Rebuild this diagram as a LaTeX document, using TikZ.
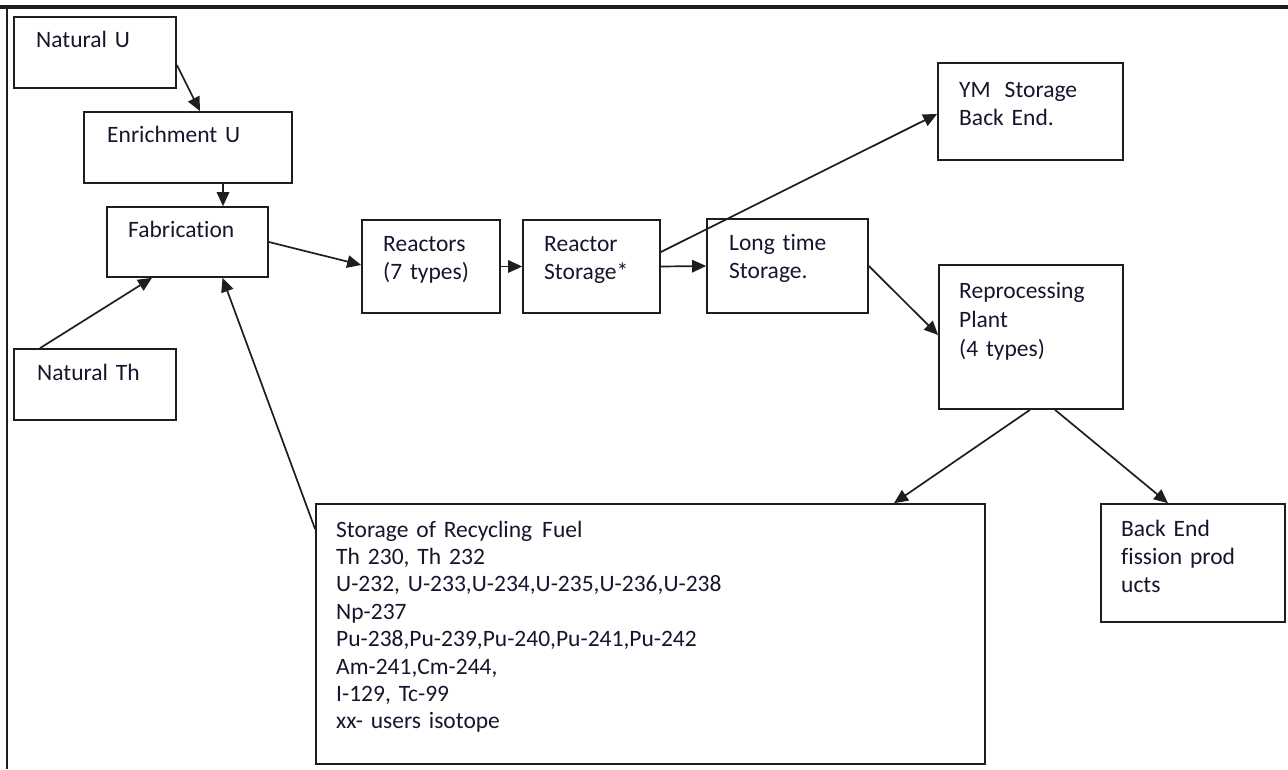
\documentclass[tikz,border=0pt]{standalone}
\usepackage{fontspec}
\setmainfont{Carlito}[Ligatures=CommonOff]
\usetikzlibrary{arrows.meta,fit}
\definecolor{linec}{RGB}{30,30,30}
\definecolor{textc}{RGB}{25,20,45}
\begin{document}
\begin{tikzpicture}[x=1pt,y=-1pt,
  box/.style={draw=linec, line width=1.7pt, inner sep=0pt},
  txt/.style={anchor=base west, inner sep=0pt, align=left, text width=300pt,
    font=\fontsize{23.5}{28.5}\selectfont, text=textc},
  arr/.style={draw=linec, line width=1.7pt, -{Triangle[length=14pt,width=12.5pt]}}]
\useasboundingbox (0,0) rectangle (1288,769);
% frame
\draw[line width=4pt, linec] (0,7) -- (1288,7);
\draw[line width=2.2pt, linec] (7,5) -- (7,769);
% boxes
\node[box, fit={(14,17) (176,88)}] (nu) {};
\node[box, fit={(84,112) (292,183)}] (enr) {};
\node[box, fit={(107,207) (268,277)}] (fab) {};
\node[box, fit={(14,349) (176,420)}] (nth) {};
\node[box, fit={(362,220) (500,313)}] (rea) {};
\node[box, fit={(523,220) (660,313)}] (rst) {};
\node[box, fit={(707,219) (868,313)}] (lts) {};
\node[box, fit={(938,63) (1123,160)}] (ym) {};
\node[box, fit={(939,265) (1123,409)}] (rep) {};
\node[box, fit={(1101,504) (1285,622)}] (be) {};
\node[box, fit={(316,504) (985,764)}] (srf) {};
% texts
\node[txt] (tnu) at (36,47) {Natural U};
\node[txt] (tenr) at (107,142.5) {Enrichment U};
\node[txt] (tfab) at (128,237) {Fabrication};
\node[txt] (tnth) at (37,380) {Natural Th};
\node[txt] (trea) at (383,251) {Reactors\\(7 types)};
\node[txt] (trst) at (544,251) {Reactor\\Storage*};
\node[txt] (tlts) at (729,250) {Long time\\Storage.};
\node[txt] (tym) at (959,97) {YM\hspace{14pt}Storage\\Back End.};
\node[txt, font=\fontsize{23.5}{29}\selectfont] (trep) at (959,298) {Reprocessing\\Plant\\(4 types)};
\node[txt, font=\fontsize{23.5}{28}\selectfont] (tbe) at (1121,536) {Back End\\fission prod\\ucts};
\node[txt, text width=620pt, font=\fontsize{23.5}{27.4}\selectfont] (tsrf) at (336,537)
  {Storage of Recycling\hspace{10pt}Fuel\\
   Th\hspace{8pt}230, Th\hspace{8pt}232\\
   U-232, U-233,U-234,U-235,U-236,U-238\\
   Np-237\\
   Pu-238,Pu-239,Pu-240,Pu-241,Pu-242\\
   Am-241,Cm-244,\\
   I-129, Tc-99\\
   xx- users isotope};
% connectors
\draw[arr] ([yshift=-12.5pt]nu.east) -- ([xshift=12pt]enr.north);
\draw[arr] ([xshift=35pt]enr.south) -- ([xshift=35.5pt]fab.north);
\draw[arr] (fab.east) -- ([yshift=1.5pt]rea.west);
\draw[arr] ([xshift=-55pt]nth.north) -- ([xshift=-35.5pt]fab.south);
\draw[arr] ([yshift=-26pt]srf.north west) -- ([xshift=35pt]fab.south);
\draw[arr] (rea.east) -- (rst.west);
\draw[arr] (rst.east) -- (lts.west);
\draw[arr] ([yshift=14.5pt]rst.east) -- ([yshift=-2.5pt]ym.west);
\draw[arr] (lts.east) -- ([yshift=2pt]rep.west);
\draw[arr] ([xshift=-1pt]rep.south) -- ([xshift=243.5pt]srf.north);
\draw[arr] ([xshift=24pt]rep.south) -- ([xshift=-25pt]be.north);
\end{tikzpicture}
\end{document}
